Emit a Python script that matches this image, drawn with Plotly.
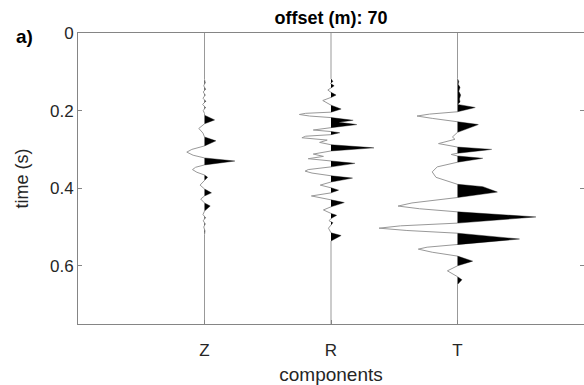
import plotly.graph_objects as go

# ---------------- data ----------------
components = ["Z", "R", "T"]
positions = [1, 2, 3]
time_ticks = [0, 0.2, 0.4, 0.6]
time_tick_labels = ["0", "0.2", "0.4", "0.6"]
title_text = "offset (m): 70"

z_time = [0, 0.120, 0.128, 0.136, 0.145, 0.152, 0.160, 0.168, 0.176, 0.184, 0.192, 0.200, 0.207,
          0.212, 0.224, 0.234, 0.246, 0.258, 0.268, 0.278, 0.291, 0.300, 0.307, 0.315, 0.322, 0.330,
          0.340, 0.346, 0.352, 0.359, 0.366, 0.372, 0.380, 0.392, 0.402, 0.412, 0.420, 0.428, 0.438,
          0.446, 0.459, 0.468, 0.476, 0.484, 0.492, 0.500, 0.510, 0.520, 0.75]
z_amp = [0, 0, 0.006, -0.006, 0.008, -0.010, 0.006, -0.012, 0.010, -0.015, 0.008, -0.010, 0.0,
         0, 0.08, 0, -0.045, -0.012, 0, 0.09, 0, -0.10, -0.14, -0.09, 0, 0.24,
         0, -0.07, -0.095, -0.06, 0, 0.025, 0, -0.035, 0, 0.055, 0, -0.03, 0,
         0.045, 0, -0.012, 0.008, -0.010, 0.006, -0.006, 0.004, 0, 0]

r_time = [0, 0.118, 0.125, 0.130, 0.136, 0.142, 0.147, 0.153, 0.160, 0.166, 0.174, 0.186, 0.196,
          0.204, 0.207, 0.210, 0.214, 0.218, 0.225, 0.230, 0.236, 0.244, 0.250, 0.254, 0.257, 0.262,
          0.266, 0.270, 0.276, 0.282, 0.288, 0.296, 0.304, 0.312, 0.318, 0.324, 0.330, 0.336, 0.345,
          0.352, 0.356, 0.361, 0.368, 0.374, 0.384, 0.392, 0.399, 0.405, 0.412, 0.420, 0.430, 0.437,
          0.448, 0.456, 0.465, 0.470, 0.478, 0.484, 0.489, 0.495, 0.503, 0.515, 0.522, 0.536, 0.75]
r_amp = [0, 0, 0.015, -0.005, 0.025, 0, -0.025, 0, 0.04, 0, -0.065, 0, 0.08,
         0, -0.20, -0.25, -0.17, 0, 0.175, 0.06, 0.205, 0, -0.14, 0, 0.07, 0,
         -0.20, -0.23, -0.03, -0.09, 0, 0.34, 0, -0.14, -0.06, -0.18, 0, 0.19, 0,
         -0.18, -0.205, -0.15, 0, 0.17, 0, -0.085, 0, 0.06, 0, -0.155, 0, 0.105,
         0, -0.06, 0, 0.045, 0, -0.015, 0.015, 0, -0.02, 0, 0.08, 0, 0]

t_time = [0, 0.118, 0.125, 0.132, 0.140, 0.150, 0.160, 0.170, 0.178, 0.184, 0.192, 0.203, 0.209,
          0.214, 0.220, 0.229, 0.236, 0.256, 0.268, 0.274, 0.285, 0.294, 0.300, 0.310, 0.313, 0.317,
          0.323, 0.333, 0.345, 0.358, 0.372, 0.390, 0.396, 0.410, 0.424, 0.438, 0.446, 0.453, 0.461,
          0.474, 0.490, 0.497, 0.503, 0.509, 0.516, 0.531, 0.546, 0.552, 0.557, 0.565, 0.575, 0.588,
          0.600, 0.613, 0.628, 0.636, 0.648, 0.75]
t_amp = [0, 0, 0.010, 0.005, 0.020, 0.010, 0.025, 0.015, 0.020, 0, 0.14, 0, -0.22,
         -0.32, -0.20, 0, 0.165, 0, -0.04, -0.02, -0.15, 0, 0.27, 0, -0.05, 0,
         0.20, 0, -0.16, -0.20, -0.17, 0, 0.20, 0.315, 0, -0.36, -0.47, -0.30, 0,
         0.62, 0, -0.45, -0.62, -0.40, 0, 0.49, 0, -0.24, -0.31, -0.20, 0, 0.12,
         0, -0.08, 0, 0.035, 0, 0]

series_time = [z_time, r_time, t_time]
series_amp = [z_amp, r_amp, t_amp]

# ---------------- helpers ----------------
def positive_part(t, a):
    pt, pa = [], []
    for i in range(len(t)):
        if i > 0 and a[i - 1] * a[i] < 0:
            f = a[i - 1] / (a[i - 1] - a[i])
            pt.append(t[i - 1] + f * (t[i] - t[i - 1]))
            pa.append(0.0)
        pt.append(t[i])
        pa.append(max(a[i], 0.0))
    return pt, pa

AXIS_GRAY = "#858585"
TEXT = "#262626"
FONT = "Liberation Sans, Arial, sans-serif"

fig = go.Figure()
for pos, tt, aa in zip(positions, series_time, series_amp):
    fig.add_trace(go.Scatter(
        x=[pos + v for v in aa], y=tt, mode="lines",
        line=dict(color="#999999", width=1), showlegend=False, hoverinfo="skip"))
    pt, pa = positive_part(tt, aa)
    fig.add_trace(go.Scatter(
        x=[pos + v for v in pa], y=pt, mode="none", fill="toself",
        fillcolor="black", showlegend=False, hoverinfo="skip"))

# invisible trace to activate right-side tick axis
fig.add_trace(go.Scatter(x=[None], y=[None], yaxis="y2", showlegend=False, hoverinfo="skip"))

fig.update_layout(
    width=584, height=385,
    margin=dict(l=78, r=0, t=33, b=61),
    paper_bgcolor="white", plot_bgcolor="white",
    font=dict(family=FONT, color=TEXT, size=16),
    title=dict(text="<b>" + title_text + "</b>", x=0.5, xref="paper", xanchor="center",
               y=1 - 18 / 385, yref="container", yanchor="middle",
               font=dict(size=18, color="black", family=FONT)),
    xaxis=dict(range=[0, 4], tickvals=positions, ticktext=components,
               ticks="inside", ticklen=4, tickcolor=AXIS_GRAY,
               showline=True, linecolor=AXIS_GRAY, linewidth=1, mirror=True,
               showgrid=False, zeroline=False, ticklabelstandoff=11,
               tickfont=dict(size=17, color=TEXT),
               title=dict(text="components", font=dict(size=19, color=TEXT), standoff=8)),
    yaxis=dict(range=[0.75, 0], tickvals=time_ticks, ticktext=time_tick_labels,
               ticks="inside", ticklen=4, tickcolor=AXIS_GRAY,
               showline=True, linecolor=AXIS_GRAY, linewidth=1,
               showgrid=False, zeroline=False,
               tickfont=dict(size=17, color=TEXT),
               title=dict(text="time (s)", font=dict(size=18, color=TEXT), standoff=16)),
    yaxis2=dict(range=[0.75, 0], tickvals=time_ticks, overlaying="y", side="right",
                ticks="inside", ticklen=4, tickcolor=AXIS_GRAY, showticklabels=False,
                showline=False, showgrid=False, zeroline=False),
    annotations=[dict(text="<b>a)</b>", x=-0.105, y=1 + (33 - 37) / 291,
                      xref="paper", yref="paper", xanchor="center", yanchor="middle",
                      showarrow=False, font=dict(size=19, color="black", family=FONT))],
)

fig.write_html("out.html")
